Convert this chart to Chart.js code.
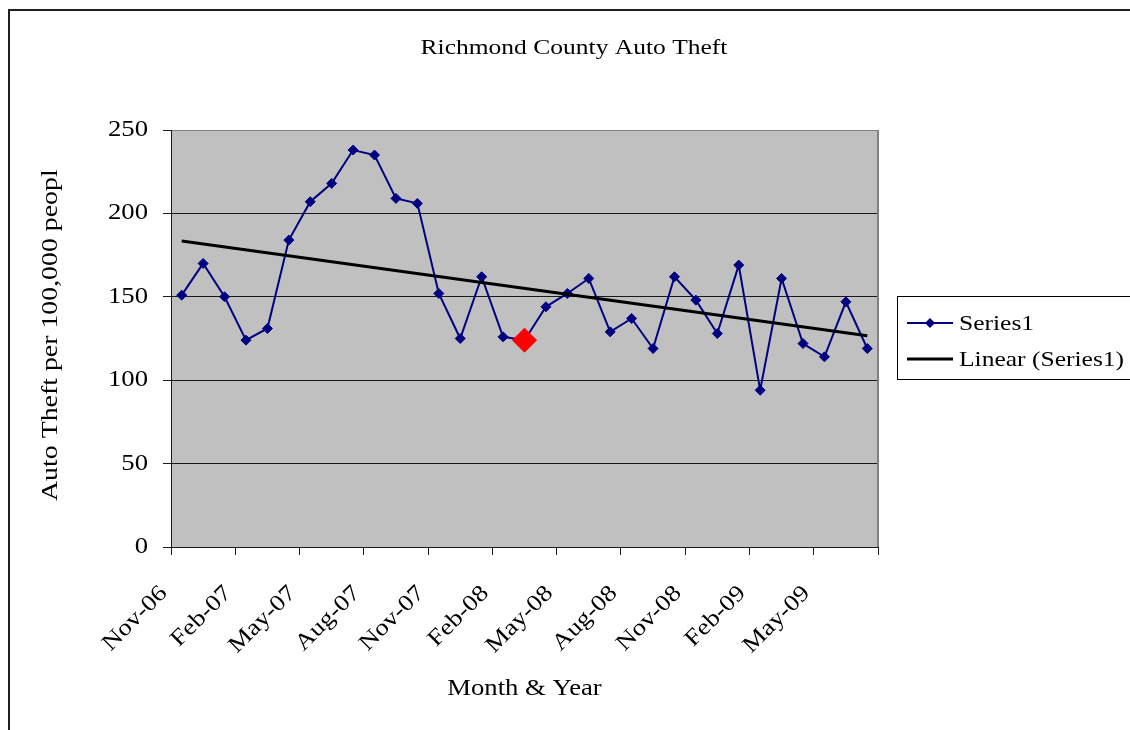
<!DOCTYPE html>
<html>
<head>
<meta charset="utf-8">
<title>Richmond County Auto Theft</title>
<script src="https://cdn.jsdelivr.net/npm/chart.js@4"></script>
<style>
  html, body { margin: 0; padding: 0; background: #ffffff; }
  #wrap { position: relative; width: 1130px; height: 730px; }
</style>
</head>
<body>
<div id="wrap"><canvas id="chart" width="1130" height="730"></canvas></div>
<script>
// Monthly categories, Nov 2006 through Jul 2009
const months = [
  'Nov-06', 'Dec-06',
  'Jan-07', 'Feb-07', 'Mar-07', 'Apr-07', 'May-07', 'Jun-07',
  'Jul-07', 'Aug-07', 'Sep-07', 'Oct-07', 'Nov-07', 'Dec-07',
  'Jan-08', 'Feb-08', 'Mar-08', 'Apr-08', 'May-08', 'Jun-08',
  'Jul-08', 'Aug-08', 'Sep-08', 'Oct-08', 'Nov-08', 'Dec-08',
  'Jan-09', 'Feb-09', 'Mar-09', 'Apr-09', 'May-09', 'Jun-09', 'Jul-09'
];

// Auto thefts per 100,000 people, one value per month
const autoTheft = [
  151, 170,
  150, 124, 131, 184, 207, 218,
  238, 235, 209, 206, 152, 125,
  162, 126, 124, 144, 152, 161,
  129, 137, 119, 162, 148, 128,
  169, 94, 161, 122, 114, 147, 119
];

// Month marked with the large red diamond
const highlightMonth = 'Mar-08';

// Value axis ticks
const yTickValues = [0, 50, 100, 150, 200, 250];
// Month labels are shown every third month
const monthLabelStep = 3;

const seriesLabel = 'Series1';
const trendLabel = 'Linear (' + seriesLabel + ')';

const FONT = 'Liberation Serif';
const TEXT_STRETCH = 1.16;   // wide-set lettering along the text direction
const plainFillText = CanvasRenderingContext2D.prototype.fillText;

// Least-squares line through the monthly values
function linearFit(ys) {
  const n = ys.length;
  const mx = (n - 1) / 2;
  const my = ys.reduce((a, b) => a + b, 0) / n;
  let sxy = 0, sxx = 0;
  ys.forEach((y, i) => { sxy += (i - mx) * (y - my); sxx += (i - mx) * (i - mx); });
  const slope = sxy / sxx;
  return { slope, intercept: my - slope * mx };
}
const fit = linearFit(autoTheft);

// Each month sits in the middle of its slot on the axis
const seriesPoints = months.map((m, i) => ({ x: i + 0.5, y: autoTheft[i] }));
const trendPoints = [0, months.length - 1].map(i => ({ x: i + 0.5, y: fit.intercept + fit.slope * i }));

const navy = '#000080';
const pointColors = months.map(m => m === highlightMonth ? '#ff0000' : navy);
const pointSizes = months.map(m => m === highlightMonth ? 12 : 5);

// Draws text expanded along its own direction
function wideText(ctx, text, x, y) {
  ctx.save();
  ctx.translate(x, y);
  ctx.scale(TEXT_STRETCH, 1);
  plainFillText.call(ctx, text, 0, 0);
  ctx.restore();
}

// Tick labels drawn by the axes get the same wide lettering
const widePlugin = {
  id: 'wideLettering',
  beforeDraw(chart) {
    chart.ctx.fillText = function (text, x, y) { wideText(this, text, x, y); };
  },
  afterDraw(chart) {
    delete chart.ctx.fillText;
  }
};

const framePlugin = {
  id: 'frame',
  beforeDraw(chart) {
    const ctx = chart.ctx;
    const a = chart.chartArea;
    ctx.save();
    ctx.fillStyle = '#ffffff';
    ctx.fillRect(0, 0, chart.width, chart.height);
    // chart border
    ctx.strokeStyle = '#202020';
    ctx.lineWidth = 2;
    ctx.strokeRect(9, 10, 1400, 1400);
    // plot background
    ctx.fillStyle = '#c0c0c0';
    ctx.fillRect(a.left, a.top, a.right - a.left, a.bottom - a.top);
    ctx.restore();
  },
  afterDraw(chart) {
    const ctx = chart.ctx;
    const a = chart.chartArea;
    ctx.save();
    // right edge of the plot
    ctx.strokeStyle = '#808080';
    ctx.lineWidth = 2;
    ctx.beginPath();
    ctx.moveTo(a.right, a.top);
    ctx.lineTo(a.right, a.bottom);
    ctx.stroke();

    ctx.fillStyle = '#000000';
    // title
    ctx.font = '22px "' + FONT + '"';
    ctx.textAlign = 'center';
    ctx.textBaseline = 'middle';
    wideText(ctx, 'Richmond County Auto Theft', 574, 48);

    // x axis title
    ctx.font = '23px "' + FONT + '"';
    wideText(ctx, 'Month & Year', (a.left + a.right) / 2, 689);

    // y axis title, cut off at the top
    ctx.save();
    ctx.beginPath();
    ctx.rect(0, 170, 160, 560);
    ctx.clip();
    ctx.font = '24px "' + FONT + '"';
    ctx.textAlign = 'left';
    ctx.textBaseline = 'alphabetic';
    ctx.translate(57, 501);
    ctx.rotate(-Math.PI / 2);
    wideText(ctx, 'Auto Theft per 100,000 people', 0, 0);
    ctx.restore();

    // legend
    const ds = chart.data.datasets;
    const box = { x: 897.5, y: 296.5, w: 400, h: 83 };
    ctx.strokeStyle = '#000000';
    ctx.lineWidth = 1;
    ctx.strokeRect(box.x, box.y, box.w, box.h);
    const rows = [323, 359];
    ctx.font = '22px "' + FONT + '"';
    ctx.textAlign = 'left';
    ctx.textBaseline = 'middle';
    ds.forEach((d, i) => {
      const y = rows[i];
      ctx.strokeStyle = d.borderColor;
      ctx.lineWidth = d.borderWidth;
      ctx.beginPath();
      ctx.moveTo(907, y);
      ctx.lineTo(953, y);
      ctx.stroke();
      if (d.legendMarker) {
        const r = 5;
        ctx.fillStyle = d.borderColor;
        ctx.beginPath();
        ctx.moveTo(930 - r, y);
        ctx.lineTo(930, y - r);
        ctx.lineTo(930 + r, y);
        ctx.lineTo(930, y + r);
        ctx.closePath();
        ctx.fill();
      }
      ctx.fillStyle = '#000000';
      wideText(ctx, d.label, 959, y + 1);
    });
    ctx.restore();
  }
};

const darkLine = '#1a1a1a';

function buildChart() {
  new Chart(document.getElementById('chart'), {
    type: 'line',
    data: {
      datasets: [
        {
          label: seriesLabel,
          data: seriesPoints,
          borderColor: navy,
          borderWidth: 2,
          tension: 0,
          pointStyle: 'rectRot',
          pointRadius: pointSizes,
          pointHoverRadius: pointSizes,
          pointBackgroundColor: pointColors,
          pointBorderColor: pointColors,
          pointBorderWidth: 1,
          legendMarker: true,
          order: 1
        },
        {
          label: trendLabel,
          data: trendPoints,
          borderColor: '#000000',
          borderWidth: 3,
          pointRadius: 0,
          pointHoverRadius: 0,
          tension: 0,
          legendMarker: false,
          order: 0
        }
      ]
    },
    options: {
      responsive: false,
      animation: false,
      devicePixelRatio: 1,
      layout: { padding: { left: 0, top: 130, right: 252, bottom: 0 } },
      plugins: {
        legend: { display: false },
        title: { display: false },
        tooltip: { enabled: false }
      },
      scales: {
        x: {
          type: 'linear',
          min: 0,
          max: months.length,
          afterFit(scale) { scale.height = 183; },
          ticks: {
            stepSize: monthLabelStep,
            autoSkip: false,
            minRotation: 45,
            maxRotation: 45,
            padding: 25,
            labelOffset: -7,
            color: '#000000',
            font: { family: FONT, size: 23 },
            callback: (v) => months[v] || ''
          },
          grid: { drawOnChartArea: false, drawTicks: true, tickLength: 8, color: darkLine },
          border: { color: darkLine, width: 1 }
        },
        y: {
          min: 0,
          max: 250,
          afterFit(scale) { scale.width = 171; },
          afterBuildTicks(scale) { scale.ticks = yTickValues.map(v => ({ value: v })); },
          ticks: {
            padding: 15,
            color: '#000000',
            font: { family: FONT, size: 23 }
          },
          grid: {
            color: (c) => (c.tick && c.tick.value === 250) ? '#808080' : darkLine,
            tickColor: darkLine,
            tickLength: 8,
            lineWidth: 1
          },
          border: { color: darkLine, width: 1 }
        }
      }
    },
    plugins: [framePlugin, widePlugin]
  });
}

Promise.all([
  document.fonts.load('22px "' + FONT + '"'),
  document.fonts.load('23px "' + FONT + '"'),
  document.fonts.load('24px "' + FONT + '"')
]).then(buildChart, buildChart);
</script>
</body>
</html>
